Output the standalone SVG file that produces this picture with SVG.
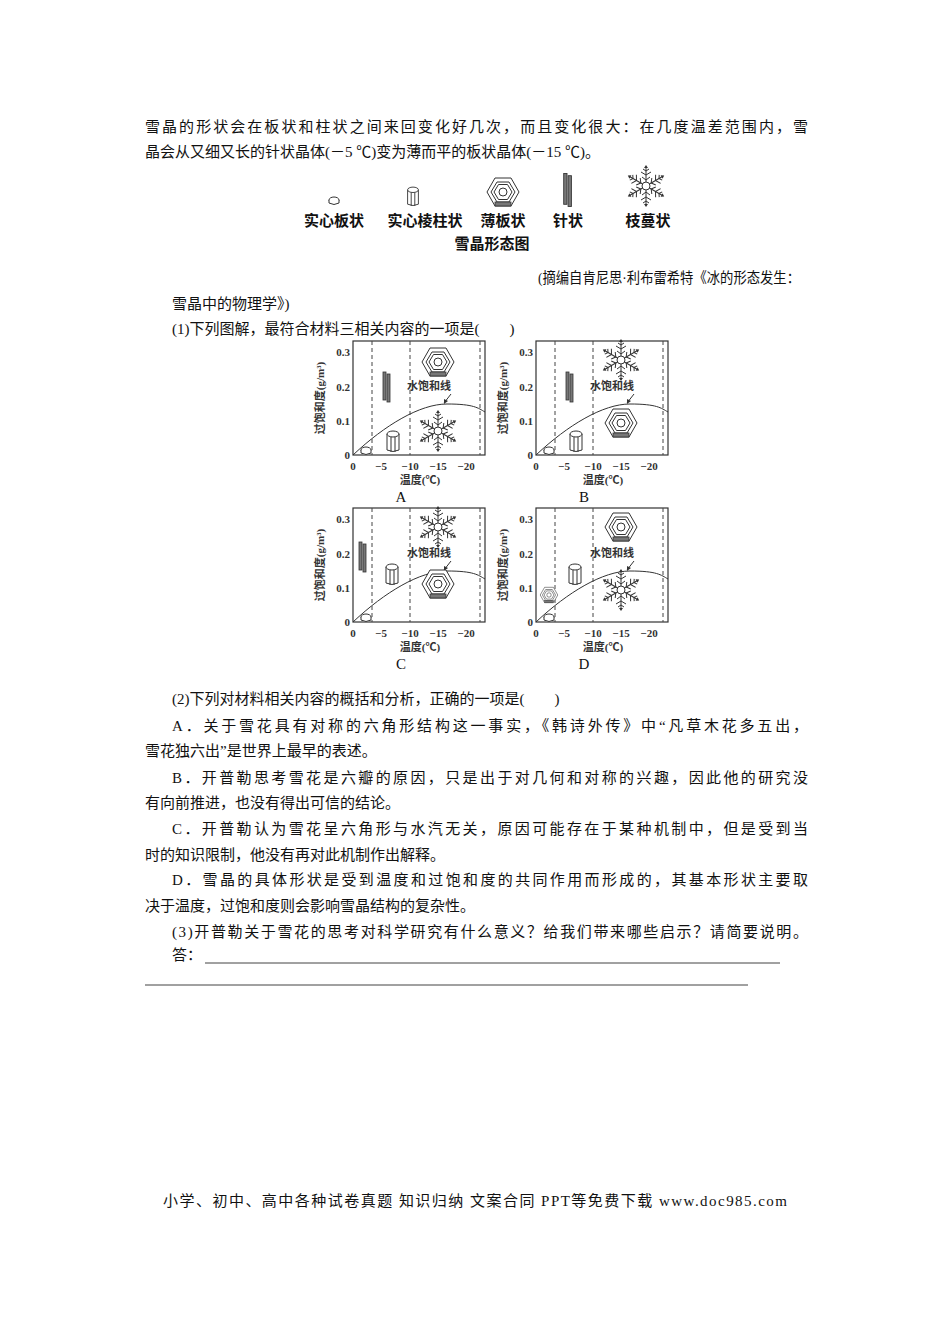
<svg xmlns="http://www.w3.org/2000/svg" xmlns:xlink="http://www.w3.org/1999/xlink" width="950" height="1344" viewBox="0 0 950 1344">
<style>
text{font-family:"Liberation Serif","Noto Sans CJK SC",serif;font-size:15px;fill:#111}
.ax{font-size:11px;font-weight:bold;fill:#333}
.lb{font-size:15px}
.ic{fill:#fff;stroke:#333;stroke-width:1}
.dk{fill:#777;stroke:#333;stroke-width:0.8}
.ln{fill:none;stroke:#333;stroke-width:1}
.dash{stroke:#444;stroke-width:1;stroke-dasharray:4,3}
</style>
<defs>
<g id="plate"><ellipse cx="0" cy="0" rx="5" ry="3" class="ic"/><path d="M-5,0 V3 Q0,6 5,3 V0" class="ic"/></g>
<g id="column"><path d="M-6,-8 V8 Q0,11 6,8 V-8" class="ic"/><ellipse cx="0" cy="-8" rx="6" ry="3" class="ic"/><line x1="-2" y1="-5" x2="-2" y2="10" class="ln"/><line x1="2" y1="-5" x2="2" y2="10" class="ln"/></g>
<g id="hex"><polygon points="-16,0 -8,-14 8,-14 16,0 8,14 -8,14" class="ic" stroke-width="1.5"/><polygon points="-12,0 -6,-10 6,-10 12,0 6,10 -6,10" class="ln"/><polygon points="-9,0 -4.5,-7.5 4.5,-7.5 9,0 4.5,7.5 -4.5,7.5" class="ln"/><circle r="4" class="ic"/><rect x="-8" y="10" width="16" height="4" class="dk"/></g>
<g id="arm"><line x1="0" y1="0" x2="0" y2="-19" class="ln" stroke-width="1.6"/><path d="M0,-6 l-4,-3 M0,-6 l4,-3 M0,-11 l-5,-3 M0,-11 l5,-3 M0,-15 l-3,-2 M0,-15 l3,-2" class="ln"/><path d="M0,-21 l-2,3 h4z" fill="#333"/></g>
<g id="dend"><use href="#arm"/><use href="#arm" transform="rotate(60)"/><use href="#arm" transform="rotate(120)"/><use href="#arm" transform="rotate(180)"/><use href="#arm" transform="rotate(240)"/><use href="#arm" transform="rotate(300)"/><circle r="4" class="ic"/></g>
<g id="needle"><rect x="-3" y="-15" width="3" height="28" class="dk"/><rect x="1" y="-13" width="3" height="28" class="dk"/></g>
<g id="axes">
<rect x="353" y="341" width="132" height="114" fill="none" stroke="#333" stroke-width="1.2"/>
<line x1="372" y1="341" x2="372" y2="455" class="dash"/>
<line x1="410" y1="341" x2="410" y2="455" class="dash"/>
<line x1="480" y1="341" x2="480" y2="455" class="dash"/>
<path d="M353,455 C385,425 420,404 447,404 S478,408 485,412" class="ln"/>
<g text-anchor="end"><text x="350" y="459" class="ax">0</text><text x="350" y="425" class="ax">0.1</text><text x="350" y="391" class="ax">0.2</text><text x="350" y="356" class="ax">0.3</text></g>
<g text-anchor="middle"><text x="353" y="470" class="ax">0</text><text x="381" y="470" class="ax">−5</text><text x="410" y="470" class="ax">−10</text><text x="438" y="470" class="ax">−15</text><text x="466" y="470" class="ax">−20</text><text x="420" y="484" class="ax">温度(℃)</text></g>
<text transform="translate(324,398) rotate(-90)" text-anchor="middle" class="ax">过饱和度(g/m³)</text>
<text x="429" y="390" text-anchor="middle" class="ax">水饱和线</text>
<path d="M451,394 L444,403" class="ln"/><path d="M444,404 l0,-5 l4,2z" fill="#333"/>
</g>
</defs>
<g id="text">
<text x="145" y="132" textLength="663" lengthAdjust="spacing">雪晶的形状会在板状和柱状之间来回变化好几次，而且变化很大：在几度温差范围内，雪</text>
<text x="145" y="157">晶会从又细又长的针状晶体(－5 ℃)变为薄而平的板状晶体(－15 ℃)。</text>
<text x="538" y="283" textLength="262" lengthAdjust="spacingAndGlyphs">(摘编自肯尼思·利布雷希特《冰的形态发生：</text>
<text x="172" y="309">雪晶中的物理学》)</text>
<text x="172" y="334">(1)下列图解，最符合材料三相关内容的一项是(　　)</text>
<text x="172" y="704">(2)下列对材料相关内容的概括和分析，正确的一项是(　　)</text>
<text x="172" y="731" textLength="636" lengthAdjust="spacing">A．关于雪花具有对称的六角形结构这一事实，《韩诗外传》中“凡草木花多五出，</text>
<text x="145" y="756">雪花独六出”是世界上最早的表述。</text>
<text x="172" y="783" textLength="636" lengthAdjust="spacing">B．开普勒思考雪花是六瓣的原因，只是出于对几何和对称的兴趣，因此他的研究没</text>
<text x="145" y="808">有向前推进，也没有得出可信的结论。</text>
<text x="172" y="834" textLength="636" lengthAdjust="spacing">C．开普勒认为雪花呈六角形与水汽无关，原因可能存在于某种机制中，但是受到当</text>
<text x="145" y="860">时的知识限制，他没有再对此机制作出解释。</text>
<text x="172" y="885" textLength="636" lengthAdjust="spacing">D．雪晶的具体形状是受到温度和过饱和度的共同作用而形成的，其基本形状主要取</text>
<text x="145" y="911">决于温度，过饱和度则会影响雪晶结构的复杂性。</text>
<text x="172" y="937" textLength="636" lengthAdjust="spacing">(3)开普勒关于雪花的思考对科学研究有什么意义？给我们带来哪些启示？请简要说明。</text>
<text x="172" y="960">答：</text>
<line x1="205" y1="963" x2="780" y2="963" stroke="#111" stroke-width="0.8"/>
<line x1="145" y1="985" x2="748" y2="985" stroke="#111" stroke-width="0.8"/>
<text x="163" y="1206" textLength="624" lengthAdjust="spacing">小学、初中、高中各种试卷真题  知识归纳  文案合同  PPT等免费下载      www.doc985.com</text>
</g>
<g id="forms">
<use href="#plate" transform="translate(334,200)"/>
<use href="#column" transform="translate(413,197) scale(0.9)"/>
<use href="#hex" transform="translate(503,192)"/>
<use href="#needle" transform="translate(567,190) scale(1.1)"/>
<use href="#dend" transform="translate(646,186)"/>
<g text-anchor="middle" font-weight="bold"><text x="334" y="226" class="lb">实心板状</text><text x="425" y="226" class="lb">实心棱柱状</text><text x="503" y="226" class="lb">薄板状</text><text x="568" y="226" class="lb">针状</text><text x="648" y="226" class="lb">枝蔓状</text><text x="492" y="249" class="lb">雪晶形态图</text></g>
</g>
<g id="chartA">
<use href="#axes"/>
<use href="#plate" transform="translate(366,450)"/>
<use href="#column" transform="translate(393,442)"/>
<use href="#needle" transform="translate(386,387)"/>
<use href="#hex" transform="translate(438,362)"/>
<use href="#dend" transform="translate(438,431)"/>
<text x="401" y="502" text-anchor="middle" class="lb">A</text>
</g>
<g id="chartB" transform="translate(183,0)">
<use href="#axes"/>
<use href="#plate" transform="translate(366,450)"/>
<use href="#column" transform="translate(393,442)"/>
<use href="#needle" transform="translate(386,387)"/>
<use href="#dend" transform="translate(438,360)"/>
<use href="#hex" transform="translate(438,423)"/>
<text x="401" y="502" text-anchor="middle" class="lb">B</text>
</g>
<g id="chartC" transform="translate(0,167)">
<use href="#axes"/>
<use href="#plate" transform="translate(366,450)"/>
<use href="#column" transform="translate(392,408)"/>
<use href="#needle" transform="translate(362,390)"/>
<use href="#dend" transform="translate(438,360)"/>
<use href="#hex" transform="translate(438,417)"/>
<text x="401" y="502" text-anchor="middle" class="lb">C</text>
</g>
<g id="chartD" transform="translate(183,167)">
<use href="#axes"/>
<use href="#plate" transform="translate(366,450)"/>
<use href="#hex" transform="translate(366,428) scale(0.55)"/>
<use href="#column" transform="translate(392,408)"/>
<use href="#hex" transform="translate(438,360)"/>
<use href="#dend" transform="translate(438,423)"/>
<text x="401" y="502" text-anchor="middle" class="lb">D</text>
</g>
</svg>
